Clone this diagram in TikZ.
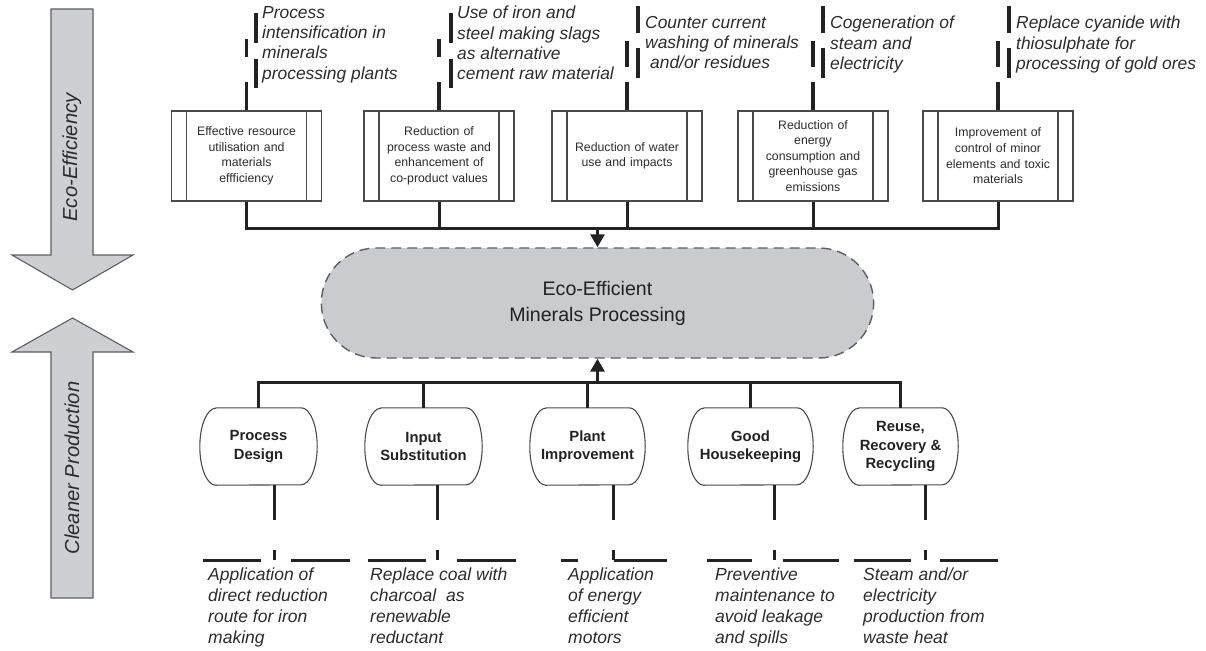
\documentclass[tikz,border=0pt]{standalone}
\usepackage{fontspec}
\setmainfont{Liberation Sans}
\usetikzlibrary{arrows.meta,calc,shapes.misc}

\definecolor{inkdark}{HTML}{222222}
\definecolor{txtgray}{HTML}{2C2C2C}
\definecolor{panelgray}{HTML}{C9CBCF}
\definecolor{arrowgray}{HTML}{CDCFD2}
\definecolor{edgegray}{HTML}{5E5E5E}
\definecolor{boxline}{HTML}{4A4A4A}

\tikzset{
  conn/.style={draw=inkdark, line width=3pt},
  annot/.style={draw=inkdark, line width=3.2pt},
  procbox/.style={draw=boxline, line width=1.1pt, fill=white,
    minimum width=150pt, minimum height=90pt, inner sep=0pt,
    text width=118pt, align=center, text=txtgray,
    font=\fontsize{12.3}{15.6}\selectfont,
    path picture={\draw[boxline, line width=1.1pt]
      ([xshift=15pt]path picture bounding box.north west) -- ([xshift=15pt]path picture bounding box.south west)
      ([xshift=-15pt]path picture bounding box.north east) -- ([xshift=-15pt]path picture bounding box.south east);}},
  note/.style={anchor=north west, inner sep=0pt, align=left, text=txtgray,
    font=\fontsize{17.4}{20.3}\selectfont\itshape},
  lownote/.style={anchor=north west, inner sep=0pt, align=left, text=txtgray,
    font=\fontsize{17.5}{21}\selectfont\itshape},
  pill/.style={minimum width=#1, minimum height=77pt, inner sep=0pt,
    align=center, text=inkdark, font=\fontsize{14.8}{18.3}\selectfont\bfseries},
  pilledge/.style={draw=boxline, line width=1.1pt},
  bigarrow/.style={draw=edgegray, line width=1.1pt, fill=arrowgray},
  arrowlabel/.style={rotate=90, inner sep=0pt, text=txtgray,
    font=\fontsize{20.2}{24}\selectfont\itshape},
  tip/.style={-{Triangle[width=14pt,length=13pt]}}
}

% outline of a capsule node: straight top and bottom, half-elliptic sides
\newcommand\pilloutline[1]{%
  \path[pilledge] ([xshift=16pt]#1.north west) -- ([xshift=-16pt]#1.north east)
    arc[start angle=90, end angle=-90, x radius=16pt, y radius=38.5pt]
    -- ([xshift=16pt]#1.south west)
    arc[start angle=270, end angle=90, x radius=16pt, y radius=38.5pt] -- cycle;}

\begin{document}
\begin{tikzpicture}[x=1pt, y=-1pt]
\useasboundingbox (0,0) rectangle (1206,650);

% ---- side arrows ----
\draw[bigarrow] (51,9) -- (93,9) -- (93,255) -- (133,255) -- (72.5,290)
  -- (12,255) -- (51,255) -- cycle;
\draw[bigarrow] (72.5,318) -- (133,352) -- (93,352) -- (93,598) -- (51,598)
  -- (51,352) -- (12,352) -- cycle;
\node[arrowlabel] (ecolab) at (72,157.5) {Eco-Efficiency};
\node[arrowlabel] (cplab) at (72,468) {Cleaner Production};

% ---- eco-efficiency boxes ----
\node[procbox] (b1) at (246.5,156) {Effective resource\\ utilisation and\\ materials\\ effficiency};
\node[procbox] (b2) at (439,156) {Reduction of\\ process waste and\\ enhancement of\\ co-product values};
\node[procbox] (b3) at (627,156) {Reduction of water\\ use and impacts};
\node[procbox] (b4) at (813,156) {Reduction of\\ energy\\ consumption and\\ greenhouse gas\\ emissions};
\node[procbox] (b5) at (998,156) {Improvement of\\ control of minor\\ elements and toxic\\ materials};

% ---- example notes above the boxes ----
\node[note] (t1) at (262,6) {Process\\ intensification in\\ minerals\\ processing plants};
\node[note] (t2) at (457,6) {Use of iron and\\ steel making slags\\ as alternative\\ cement raw material};
\node[note] (t3) at (645,16) {Counter current\\ washing of minerals\\ \hspace{5pt}and/or residues};
\node[note] (t4) at (830,16) {Cogeneration of\\ steam and\\ electricity};
\node[note] (t5) at (1016,16) {Replace cyanide with\\ thiosulphate for\\ processing of gold ores};

% broken brackets tying each note to its box
\foreach \k in {1,2} {
  \draw[annot] (b\k.north) -- ++(0,-28);
  \draw[annot] ([yshift=53pt]b\k.north) -- ++(0,-18);
  \draw[annot] ([xshift=-6pt,yshift=-7pt]t\k.north west) -- ++(0,30);
  \draw[annot] ([xshift=-6pt,yshift=-53pt]t\k.north west) -- ++(0,29);
}
\foreach \k in {3,4,5} {
  \draw[annot] (b\k.north) -- ++(0,-28);
  \draw[annot] ([yshift=43pt]b\k.north) -- ++(0,-26);
  \draw[annot] ([xshift=-7pt,yshift=10pt]t\k.north west) -- ++(0,27);
  \draw[annot] ([xshift=-7pt,yshift=-32pt]t\k.north west) -- ++(0,30);
}

% ---- central goal ----
\node[rounded rectangle, draw=edgegray, line width=1.4pt, dash pattern=on 10pt off 6pt,
  fill=panelgray, minimum width=559pt, minimum height=110pt, align=center,
  text=inkdark, font=\fontsize{19.6}{26}\selectfont] (ee) at (597.5,303)
  {Eco-Efficient\\ Minerals Processing};

% upper bus into the goal
\coordinate (busA) at (597.5,228);
\draw[conn] (b1.south) -- (b1.south |- busA) -- (b5.south |- busA) -- (b5.south);
\foreach \k in {2,3,4} \draw[conn] (b\k.south) -- (b\k.south |- busA);
\draw[conn, tip] (busA) -- (ee.north);

% ---- cleaner production strategies ----
\node[pill=117pt] (n1) at (258.5,446.5) {Process\\ Design};
\node[pill=117pt] (n2) at (423.5,446.5) {Input\\ Substitution};
\node[pill=115pt] (n3) at (587.5,446.5) {Plant\\ Improvement};
\node[pill=125pt] (n4) at (750.5,446.5) {Good\\ Housekeeping};
\node[pill=115pt] (n5) at (900.5,446.5) {Reuse,\\ Recovery \&\\ Recycling};
\foreach \k in {1,...,5} \pilloutline{n\k};

% lower bus into the goal
\coordinate (busB) at (597.5,382);
\draw[conn] (n1.north) -- (n1.north |- busB) -- (n5.north |- busB) -- (n5.north);
\foreach \k in {2,3,4} \draw[conn] (n\k.north) -- (n\k.north |- busB);
\draw[conn, tip] (busB) -- (ee.south);

% ---- examples below the strategies ----
\node[lownote] (m1) at (208,568) {Application of\\ direct reduction\\ route for iron\\ making};
\node[lownote] (m2) at (370,568) {Replace coal with\\ charcoal\ \ as\\ renewable\\ reductant};
\node[lownote] (m3) at (568,568) {Application\\ of energy\\ efficient\\ motors};
\node[lownote] (m4) at (715,568) {Preventive\\ maintenance to\\ avoid leakage\\ and spills};
\node[lownote] (m5) at (863,568) {Steam and/or\\ electricity\\ production from\\ waste heat};

% stems and broken brackets: offset, left segment, right segment
\foreach \k/\dx/\la/\lb/\ra/\rb in {1/16/-72/-14/16/75, 2/14/-70/-12/19/78,
    3/26/-53/-36/0/53, 4/24/-68/-23/8/64, 5/25/-72/-15/14/72} {
  \draw[conn] ([xshift=\dx pt]n\k.south) -- ++(0,35);
  \coordinate (s\k) at ([xshift=\dx pt,yshift=-75pt]n\k.south);
  \draw[conn] (s\k) -- ++(0,-10);
  \draw[conn] ($(s\k)+(\la,0)$) -- ($(s\k)+(\lb,0)$);
  \draw[conn] ($(s\k)+(\ra,0)$) -- ($(s\k)+(\rb,0)$);
}
\end{tikzpicture}
\end{document}
